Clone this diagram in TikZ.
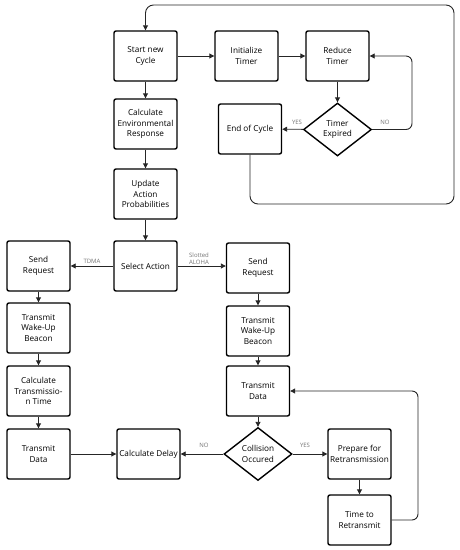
\documentclass[tikz,border=0pt]{standalone}
\usepackage{fontspec}
\setmainfont{Open Sans}
\usetikzlibrary{shapes.geometric,arrows.meta,calc}
\begin{document}
\begin{tikzpicture}[x=1pt,y=-1pt,
  box/.style={draw,line width=1.4pt,rounded corners=2pt,minimum width=63pt,minimum height=50pt,inner sep=0pt,align=center,font=\fontsize{8.2}{10.6}\selectfont},
  dec/.style={draw,diamond,line width=1.4pt,minimum width=68pt,minimum height=53pt,inner sep=0pt,align=center,font=\fontsize{8.2}{10.6}\selectfont},
  conn/.style={draw=black!85,line width=0.9pt,-{Triangle[length=5pt,width=5pt]}},
  lab/.style={text=black!55,font=\fontsize{6}{7}\selectfont,inner sep=0pt,align=left}]
\useasboundingbox (0,0) rectangle (460,550);
\node[box] (start) at (145.5,56) {Start new\\Cycle};
\node[box] (init) at (246.5,56) {Initialize\\Timer};
\node[box] (reduce) at (337.5,56) {Reduce\\Timer};
\node[dec] (timer) at (337.5,129.5) {Timer\\Expired};
\node[box] (endc) at (250,129) {End of Cycle};
\node[box] (calcenv) at (145.5,124) {Calculate\\Environmental\\Response};
\node[box] (update) at (145.5,194) {Update\\Action\\Probabilities};
\node[box] (select) at (145.5,266) {Select Action};
\node[box] (sendL) at (38.5,266) {Send\\Request};
\node[box] (sendR) at (258,268) {Send\\Request};
\node[box] (wakeL) at (38.5,328) {Transmit\\Wake-Up\\Beacon};
\node[box] (wakeR) at (258,331) {Transmit\\Wake-Up\\Beacon};
\node[box] (calctx) at (38.5,391) {Calculate\\Transmissio-\\n Time};
\node[box] (txL) at (38.5,454) {Transmit\\Data};
\node[box] (delay) at (148.5,454) {Calculate Delay};
\node[box] (txR) at (258,391) {Transmit\\Data};
\node[dec] (coll) at (258,454) {Collision\\Occured};
\node[box] (prep) at (359.5,454) {Prepare for\\Retransmission};
\node[box] (time) at (359.5,520) {Time to\\Retransmit};
% connectors
\draw[conn] (start) -- (init);
\draw[conn] (init) -- (reduce);
\draw[conn] (reduce) -- (timer);
\draw[conn] (timer) -- (endc);
\coordinate (noc) at (412,129.5);
\draw[conn,rounded corners=6pt] (timer.east) -- (noc) |- (reduce.east);
\coordinate (lp2) at (454,204);
\coordinate (lp3) at (454,5);
\coordinate (lp4) at (145.5,5);
\draw[conn,rounded corners=8pt] (endc.south) -- (endc.south |- lp2) -- (lp2) -- (lp3) -- (lp4) -- (start.north);
\draw[conn] (start) -- (calcenv);
\draw[conn] (calcenv) -- (update);
\draw[conn] (update) -- (select);
\draw[conn] (select) -- (sendL);
\draw[conn] (select.east) -- (select.east -| sendR.west);
\draw[conn] (sendL) -- (wakeL);
\draw[conn] (wakeL) -- (calctx);
\draw[conn] (calctx) -- (txL);
\draw[conn] (txL) -- (delay);
\draw[conn] (sendR) -- (wakeR);
\draw[conn] (wakeR) -- (txR);
\draw[conn] (txR) -- (coll);
\draw[conn] (coll) -- (delay);
\draw[conn] (coll) -- (prep);
\draw[conn] (prep) -- (time);
\coordinate (rc) at (418,520);
\draw[conn,rounded corners=6pt] (time.east) -- (rc) |- (txR.east);
% labels
\node[lab] (yes1) at (297,122) {YES};
\node[lab] (no1) at (385,122) {NO};
\node[lab] (tdma) at (92,261) {TDMA};
\node[lab,anchor=west] (aloha) at (189,258.5) {Slotted\\ALOHA};
\node[lab] (no2) at (204,445) {NO};
\node[lab] (yes2) at (305,445) {YES};
\end{tikzpicture}
\end{document}
